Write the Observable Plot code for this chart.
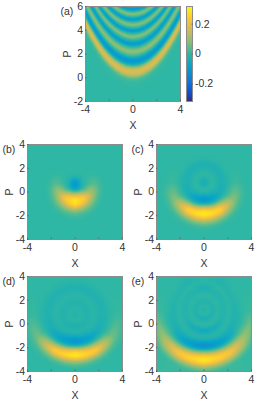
<!DOCTYPE html>
<html><head><meta charset="utf-8">
<script src="https://cdn.jsdelivr.net/npm/d3@7"></script>
<script src="https://cdn.jsdelivr.net/npm/@observablehq/plot@0.6"></script>
<style>
html,body{margin:0;padding:0;background:#fff;width:256px;height:400px;overflow:hidden}
#c{position:relative;width:256px;height:400px}
#c>*{position:absolute}
svg{overflow:visible}
</style></head><body><div id="c"></div>
<script>
// colour map (parula-like)
const parula = ["#352a87","#0f5cdd","#1481d6","#06a4ca","#2eb7a4","#87bf77","#d1bb59","#fec832","#f9fb0e"];
const colorDomain = [-0.318, 0.318];

// panel (a): value profile up the X=0 column, and how far it rises at each |X|
const aProfileP = [-2,-1,-0.5,-0.2,0,0.2,0.45,0.7,0.95,1.15,1.4,1.65,1.9,2.2,2.5,2.85,3.15,3.45,3.7,3.95,4.2,4.45,4.68,4.9,5.12,5.35,5.55,5.75,6];
const aProfileV = [0,0,0.005,0.02,0.06,0.135,0.18,0.15,0.04,-0.06,-0.115,-0.06,0.03,0.1,0.02,-0.11,-0.01,0.09,0,-0.11,0,0.09,0,-0.11,0,0.09,0,-0.11,-0.02];
const aRiseX = [0,0.5,1,1.5,2,2.5,3,3.5,4];
const aRise  = [0,0.065,0.26,0.58,1.03,1.6,2.32,3.15,4.1];

// panels (b)-(e): values on rings around a centre; rows run from straight down to straight up
const ringR = [0,0.25,0.5,0.75,1,1.25,1.5,1.75,2,2.25,2.5,2.75,3,3.25,3.5,3.75,4,4.25,4.5,4.75,5,5.25];
const bCentre = 0.7;
const bRows = [
 [-0.11,-0.1,-0.05,0.07,0.2,0.27,0.29,0.27,0.2,0.1,0.045,0.015,0.005,0,0,0,0,0,0,0,0,0],
 [-0.11,-0.095,-0.05,0.05,0.15,0.22,0.24,0.2,0.13,0.07,0.03,0.01,0,0,0,0,0,0,0,0,0,0],
 [-0.11,-0.085,-0.04,0,0.05,0.1,0.12,0.1,0.06,0.025,0.008,0,0,0,0,0,0,0,0,0,0,0],
 [-0.11,-0.08,-0.035,-0.005,0.01,0.025,0.035,0.03,0.015,0.005,0,0,0,0,0,0,0,0,0,0,0,0],
 [-0.11,-0.08,-0.035,-0.01,0,0.004,0.004,0.002,0,0,0,0,0,0,0,0,0,0,0,0,0,0],
 [-0.11,-0.08,-0.035,-0.008,0,0,0,0,0,0,0,0,0,0,0,0,0,0,0,0,0,0],
 [-0.11,-0.08,-0.035,-0.008,0,0,0,0,0,0,0,0,0,0,0,0,0,0,0,0,0,0]
];
const cCentre = 0.8;
const cRows = [
 [-0.04,-0.03,-0.005,-0.005,-0.04,-0.09,-0.115,-0.05,0.09,0.22,0.29,0.29,0.23,0.13,0.06,0.02,0.005,0,0,0,0,0],
 [-0.04,-0.03,-0.005,-0.003,-0.03,-0.06,-0.08,-0.05,0.04,0.15,0.24,0.25,0.18,0.1,0.04,0.012,0,0,0,0,0,0],
 [-0.04,-0.03,-0.005,-0.002,-0.015,-0.03,-0.04,-0.03,-0.005,0.025,0.06,0.08,0.07,0.04,0.015,0.005,0,0,0,0,0,0],
 [-0.04,-0.03,-0.007,0,-0.01,-0.025,-0.03,-0.02,-0.007,0.003,0.01,0.012,0.006,0.002,0,0,0,0,0,0,0,0],
 [-0.04,-0.03,-0.008,0,-0.01,-0.022,-0.028,-0.022,-0.008,-0.002,0,0,0,0,0,0,0,0,0,0,0,0],
 [-0.04,-0.03,-0.008,0,-0.01,-0.022,-0.028,-0.022,-0.008,-0.002,0,0,0,0,0,0,0,0,0,0,0,0],
 [-0.04,-0.03,-0.008,0,-0.01,-0.022,-0.028,-0.022,-0.008,-0.002,0,0,0,0,0,0,0,0,0,0,0,0]
];
const dCentre = 0.8;
const dRows = [
 [-0.02,-0.014,-0.003,-0.018,-0.03,-0.018,-0.015,-0.045,-0.09,-0.12,-0.08,0.05,0.2,0.28,0.29,0.21,0.1,0.04,0.008,0,0,0],
 [-0.02,-0.014,-0.003,-0.015,-0.025,-0.018,-0.012,-0.03,-0.055,-0.08,-0.065,0.005,0.11,0.2,0.24,0.18,0.09,0.03,0.008,0,0,0],
 [-0.02,-0.014,-0.003,-0.014,-0.022,-0.014,-0.007,-0.014,-0.025,-0.035,-0.032,-0.015,0.01,0.035,0.055,0.055,0.035,0.015,0.004,0,0,0],
 [-0.02,-0.014,-0.003,-0.014,-0.02,-0.014,-0.007,-0.01,-0.02,-0.025,-0.02,-0.01,-0.003,0.003,0.007,0.008,0.005,0.002,0,0,0,0],
 [-0.02,-0.014,-0.003,-0.014,-0.02,-0.014,-0.007,-0.01,-0.02,-0.024,-0.02,-0.01,-0.003,0,0,0,0,0,0,0,0,0],
 [-0.02,-0.014,-0.003,-0.014,-0.02,-0.014,-0.007,-0.01,-0.02,-0.024,-0.02,-0.01,-0.003,0,0,0,0,0,0,0,0,0],
 [-0.02,-0.014,-0.003,-0.014,-0.02,-0.014,-0.007,-0.01,-0.02,-0.024,-0.02,-0.01,-0.003,0,0,0,0,0,0,0,0,0]
];
const eCentre = 1.2;
const eRows = [
 [-0.025,-0.004,-0.008,-0.04,-0.015,0,-0.025,-0.06,-0.035,-0.008,-0.03,-0.09,-0.125,-0.09,0.05,0.18,0.27,0.29,0.25,0.15,0.07,0.02],
 [-0.025,-0.004,-0.008,-0.03,-0.014,0,-0.02,-0.045,-0.025,-0.008,-0.02,-0.055,-0.085,-0.07,0.02,0.12,0.21,0.23,0.18,0.1,0.035,0.01],
 [-0.025,-0.004,-0.008,-0.025,-0.009,-0.002,-0.018,-0.022,-0.006,-0.004,-0.022,-0.03,-0.022,0,0.025,0.06,0.09,0.08,0.05,0.02,0.006,0],
 [-0.025,-0.004,-0.008,-0.022,-0.007,-0.002,-0.018,-0.015,-0.003,-0.009,-0.022,-0.015,-0.007,0,0.005,0.01,0.01,0.006,0.002,0,0,0],
 [-0.025,-0.004,-0.008,-0.022,-0.007,-0.002,-0.015,-0.018,-0.004,-0.007,-0.015,-0.008,0,0,0,0,0,0,0,0,0,0],
 [-0.025,-0.004,-0.008,-0.022,-0.007,-0.002,-0.015,-0.022,-0.006,-0.003,-0.015,-0.022,-0.01,-0.002,0,0,0,0,0,0,0,0],
 [-0.025,-0.004,-0.008,-0.022,-0.007,0,-0.015,-0.025,-0.03,-0.01,-0.002,0,0,0,0,0,0,0,0,0,0,0]
];

// axis ticks
const xTicks = [-4,-2,0,2,4];
const xLabelled = [-4,0,4];
const aYTicks = [-2,0,2,4,6];
const yTicks = [-4,-2,0,2,4];
const barTicks = [-0.2,0,0.2];

const ink = "#333";
const font = "'Liberation Sans', Arial, sans-serif";
const fs = 10.5;
const colorScale = {type:"linear", domain:colorDomain, interpolate:d3.piecewise(d3.interpolateRgb, parula), clamp:true};

function lookup(xs, vs, x){
  if (x <= xs[0]) return vs[0];
  const n = xs.length-1;
  if (x >= xs[n]) return vs[n];
  const i = d3.bisectRight(xs, x)-1;
  const t = (x-xs[i])/(xs[i+1]-xs[i]);
  return vs[i]*(1-t)+vs[i+1]*t;
}
const readA = (x,p) => lookup(aProfileP, aProfileV, p - lookup(aRiseX, aRise, Math.abs(x)));
const readRings = (centre, rows) => (x,p) => {
  const r = Math.hypot(x, p-centre);
  const th = Math.atan2(Math.abs(x), centre-p)/Math.PI*(rows.length-1);
  const i = Math.min(Math.floor(th), rows.length-2), t = th-i;
  return lookup(ringR, rows[i], r)*(1-t)+lookup(ringR, rows[i+1], r)*t;
};

function panel({left,top,tag,tagX,read,yDomain,yt}){
  const ml=35, mt=12, mb=32, mr=10, w=95, h=95;
  const el = Plot.plot({
    width:ml+w+mr, height:mt+h+mb,
    marginLeft:ml, marginRight:mr, marginTop:mt, marginBottom:mb,
    style:{fontFamily:font, fontSize:fs+"px", color:ink, background:"transparent"},
    x:{domain:[-4,4]}, y:{domain:yDomain},
    color:colorScale,
    marks:[
      Plot.raster({fill:read, x1:-4, x2:4, y1:yDomain[0], y2:yDomain[1], pixelSize:1}),
      Plot.frame({stroke:"#8c8c8c", strokeWidth:1}),
      Plot.axisX({ticks:xTicks, tickSize:-1.5, tickPadding:6, stroke:"#666", fill:ink, fontSize:fs, label:"X", labelAnchor:"center", labelArrow:"none", labelOffset:27,
        tickFormat:d=>xLabelled.includes(d)?String(d):""}),
      Plot.axisY({ticks:yt, tickSize:-1.5, tickPadding:4, stroke:"#666", fill:ink, fontSize:fs, label:"P", labelAnchor:"center", labelArrow:"none", labelOffset:22,
        tickFormat:d=>String(d)}),
      Plot.text([tag],{frameAnchor:"top-left", dx:tagX, dy:1, textAnchor:"start", fontSize:fs, fill:ink})
    ]
  });
  el.style.left=(left-ml)+"px"; el.style.top=(top-mt)+"px";
  document.getElementById("c").appendChild(el);
}
panel({left:85, top:6,  tag:"(a)", tagX:-25, read:readA, yDomain:[-2,6], yt:aYTicks});
panel({left:27, top:144,tag:"(b)", tagX:-25, read:readRings(bCentre,bRows), yDomain:[-4,4], yt:yTicks});
panel({left:156,top:144,tag:"(c)", tagX:-25, read:readRings(cCentre,cRows), yDomain:[-4,4], yt:yTicks});
panel({left:27, top:276,tag:"(d)", tagX:-25, read:readRings(dCentre,dRows), yDomain:[-4,4], yt:yTicks});
panel({left:156,top:276,tag:"(e)", tagX:-25, read:readRings(eCentre,eRows), yDomain:[-4,4], yt:yTicks});

const bar = Plot.plot({
  width:40, height:115, marginLeft:0, marginRight:34, marginTop:10, marginBottom:10,
  style:{fontFamily:font, fontSize:fs+"px", color:ink, background:"transparent"},
  x:{domain:[0,1], axis:null}, y:{domain:colorDomain},
  color:colorScale,
  marks:[
    Plot.raster({fill:(x,y)=>y, x1:0, x2:1, y1:colorDomain[0], y2:colorDomain[1], pixelSize:1}),
    Plot.frame({stroke:"#8c8c8c", strokeWidth:1}),
    Plot.axisY({anchor:"right", ticks:barTicks, tickSize:-1.5, tickPadding:4, stroke:"#666", fill:ink, fontSize:fs, label:null, tickFormat:d=>String(d)})
  ]
});
bar.style.left="186px"; bar.style.top="-4px";
document.getElementById("c").appendChild(bar);
</script></body></html>
